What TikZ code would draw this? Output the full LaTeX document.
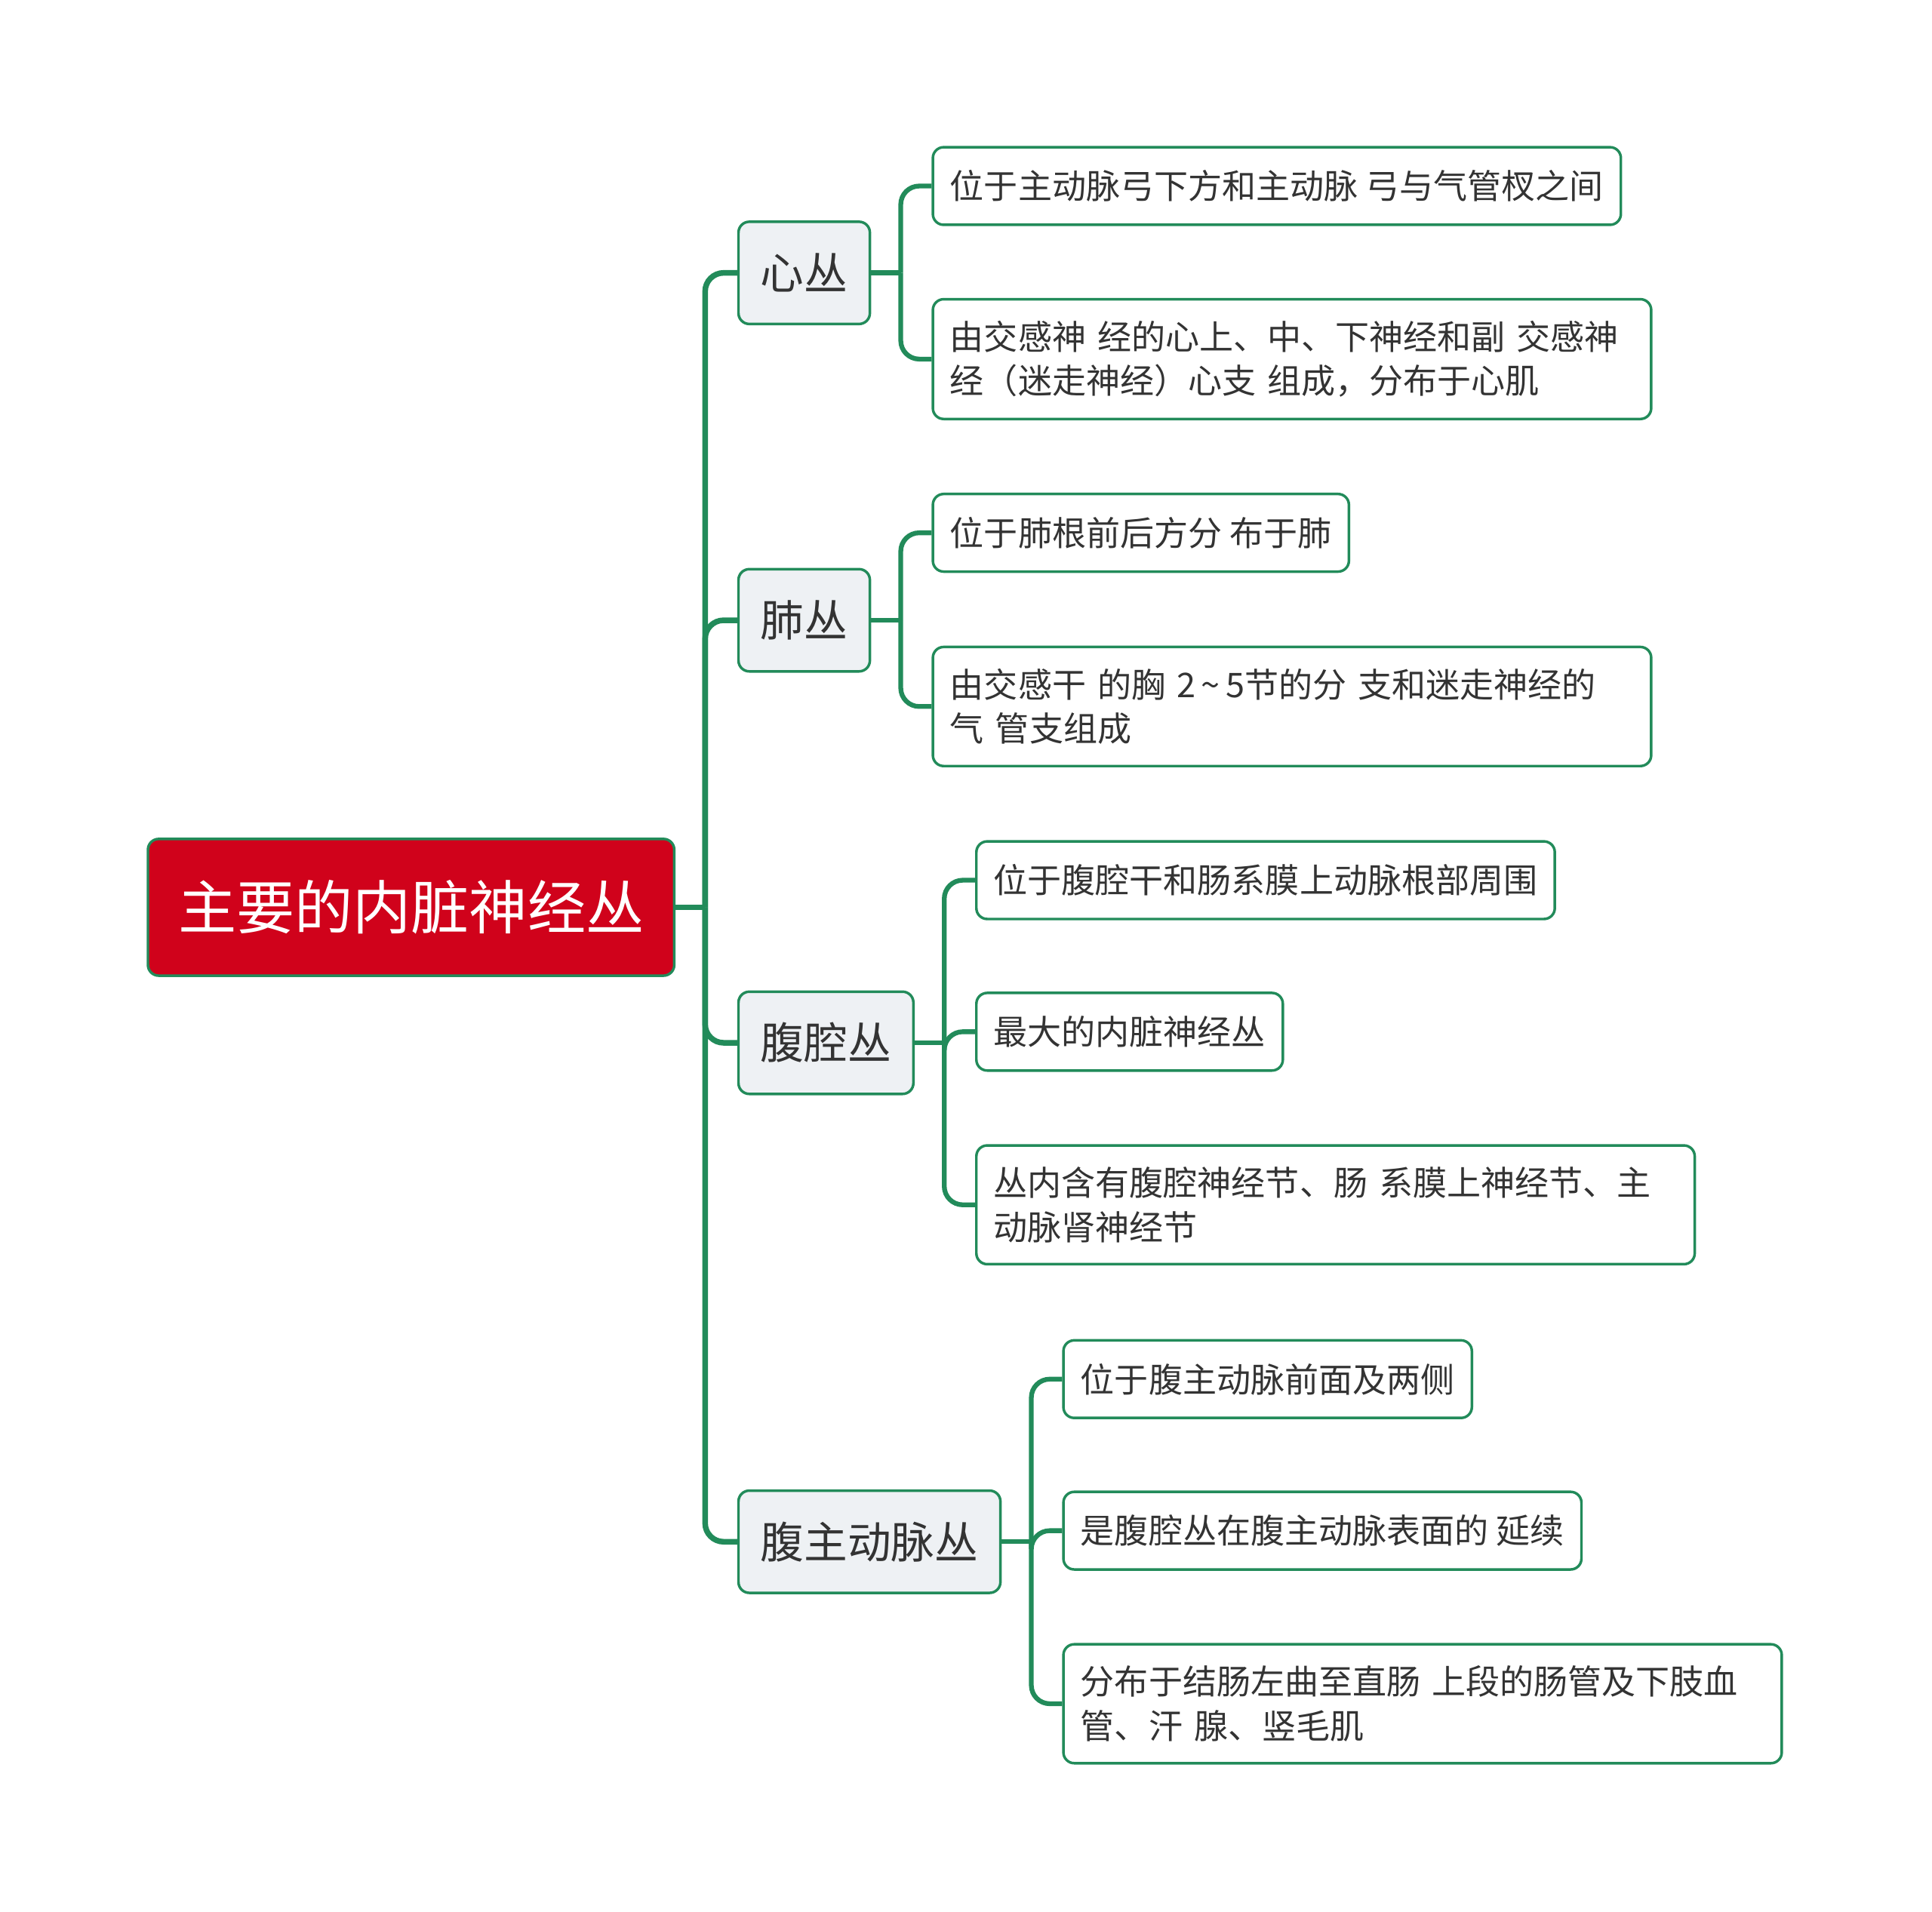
\documentclass[tikz,border=0pt]{standalone}
\usepackage{fontspec}
\setmainfont{Noto Sans CJK SC}
\usepackage{tikz}
\usetikzlibrary{positioning}
\definecolor{mmgreen}{RGB}{34,139,90}
\definecolor{mmred}{RGB}{208,2,27}
\definecolor{mmgrey}{RGB}{238,241,244}
\definecolor{mmtext}{RGB}{51,51,51}
\tikzset{
  mmroot/.style={draw=mmgreen, line width=1.2pt, rounded corners=5pt, fill=mmred, text=white, font=\fontsize{26.9pt}{32pt}\selectfont, inner xsep=0.49cm, minimum height=2.22cm},
  mmtopic/.style={draw=mmgreen, line width=1.2pt, rounded corners=5pt, fill=mmgrey, text=mmtext, font=\fontsize{20.1pt}{24pt}\selectfont, inner xsep=0.36cm, minimum height=1.66cm},
  mmleaf/.style={draw=mmgreen, line width=1.2pt, rounded corners=5pt, fill=white, text=mmtext, font=\fontsize{15.7pt}{20.4pt}\selectfont, align=left, inner xsep=0.28cm, inner ysep=0.35cm, minimum height=1.26cm},
  mmleafwide/.style={mmleaf, text width=11.1cm},
  mmtrunk/.style={draw=mmgreen, line width=2.6pt, rounded corners=0.3cm},
  mmtwig/.style={draw=mmgreen, line width=2.2pt, rounded corners=0.3cm}
}

\begin{document}
\begin{tikzpicture}
  \useasboundingbox (0,0) rectangle (31.36,-31.04);
  \node[mmroot, anchor=west] (root) at (2.38,-14.73) {主要的内脏神经丛};

  % first level
  \node[mmtopic, right=1.0cm of root, yshift=10.30cm] (xin) {心丛};
  \node[mmtopic, right=1.0cm of root, yshift=4.66cm] (fei) {肺丛};
  \node[mmtopic, right=1.0cm of root, yshift=-2.20cm] (fuq) {腹腔丛};
  \node[mmtopic, right=1.0cm of root, yshift=-10.30cm] (fuz) {腹主动脉丛};

  % 心丛
  \node[mmleaf, right=0.98cm of xin, yshift=1.41cm] (xin1) {位于主动脉弓下方和主动脉 弓与气管杈之间};
  \node[mmleafwide, right=0.98cm of xin, yshift=-1.40cm] (xin2) {由交感神 经的心上、中、下神经和副 交感神\\经（迷走神经）心支 组成，分布于心肌};

  % 肺丛
  \node[mmleaf, right=0.98cm of fei, yshift=1.42cm] (fei1) {位于肺根前后方分 布于肺};
  \node[mmleafwide, right=0.98cm of fei, yshift=-1.40cm] (fei2) {由交感干 的胸 2\,\textasciitilde\,5节的分 支和迷走神经的\\气 管支组成};

  % 腹腔丛
  \node[mmleaf, right=0.98cm of fuq, yshift=2.64cm] (fuq1) {位于腹腔干和肠系膜上动脉根部周围};
  \node[mmleaf, right=0.98cm of fuq, yshift=0.18cm] (fuq2) {最大的内脏神经丛};
  \node[mmleafwide, right=0.98cm of fuq, yshift=-2.63cm] (fuq3) {丛内含有腹腔神经节、肠 系膜上神经节、主\\动脉肾神经节};

  % 腹主动脉丛
  \node[mmleaf, right=0.98cm of fuz, yshift=2.64cm] (fuz1) {位于腹主动脉前面及两侧};
  \node[mmleaf, right=0.98cm of fuz, yshift=0.18cm] (fuz2) {是腹腔丛在腹主动脉表面的 延续};
  \node[mmleafwide, right=0.98cm of fuz, yshift=-2.63cm] (fuz3) {分布于结肠左曲至直肠 上段的肠管及下肢血\\管、汗 腺、竖毛肌};

  % connectors
  \coordinate[right=0.48cm of root] (rootfork);
  \draw[mmtrunk] (root.east) -- (rootfork);
  \foreach \t in {xin,fei,fuq,fuz}
    \draw[mmtrunk] (rootfork) |- (\t.west);

  \coordinate[right=0.48cm of xin] (xinfork);
  \draw[mmtwig] (xin.east) -- (xinfork);
  \foreach \t in {xin1,xin2}
    \draw[mmtwig] (xinfork) |- (\t.west);

  \coordinate[right=0.48cm of fei] (feifork);
  \draw[mmtwig] (fei.east) -- (feifork);
  \foreach \t in {fei1,fei2}
    \draw[mmtwig] (feifork) |- (\t.west);

  \coordinate[right=0.48cm of fuq] (fuqfork);
  \draw[mmtwig] (fuq.east) -- (fuqfork);
  \foreach \t in {fuq1,fuq2,fuq3}
    \draw[mmtwig] (fuqfork) |- (\t.west);

  \coordinate[right=0.48cm of fuz] (fuzfork);
  \draw[mmtwig] (fuz.east) -- (fuzfork);
  \foreach \t in {fuz1,fuz2,fuz3}
    \draw[mmtwig] (fuzfork) |- (\t.west);
\end{tikzpicture}
\end{document}
